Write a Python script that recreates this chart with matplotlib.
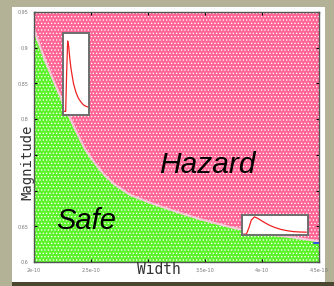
import numpy as np
import matplotlib
matplotlib.use('Agg')
import matplotlib.pyplot as plt
from matplotlib.patches import Rectangle

# boundary between safe and hazard regions
width = [2.000e-10, 2.096e-10, 2.184e-10, 2.272e-10, 2.360e-10, 2.447e-10, 2.535e-10,
         2.623e-10, 2.711e-10, 2.842e-10, 3.018e-10, 3.237e-10, 3.456e-10, 3.719e-10,
         3.982e-10, 4.246e-10, 4.500e-10]
boundary = [0.925, 0.883, 0.849, 0.817, 0.786, 0.758, 0.738,
            0.721, 0.708, 0.694, 0.683, 0.671, 0.660, 0.649,
            0.640, 0.635, 0.629]
blue_w = [4.46e-10, 4.5e-10]
blue_m = [0.627, 0.627]

x_ticks = [2.0e-10, 2.5e-10, 3.0e-10, 3.5e-10, 4.0e-10, 4.5e-10]
x_labels = ['2e-10', '2,5e-10', '', '3,5e-10', '4e-10', '4,5e-10']
y_ticks = [0.6, 0.65, 0.7, 0.75, 0.8, 0.85, 0.9, 0.95]
y_labels = ['0,6', '0,65', '', '', '0,8', '0,85', '0,9', '0,95']

# pulse shapes in the two small boxes
pulse1_t = [0, 0.08, 0.12, 0.16, 0.2, 0.25, 0.3, 0.4, 0.5, 0.6, 0.7, 0.8, 0.9, 1.0]
pulse1_v = [0.0, 0.0, 0.55, 0.97, 0.9, 0.72, 0.58, 0.38, 0.26, 0.18, 0.13, 0.09, 0.07, 0.06]
pulse2_t = [0, 0.04, 0.08, 0.12, 0.17, 0.22, 0.3, 0.4, 0.5, 0.6, 0.7, 0.8, 0.9, 1.0]
pulse2_v = [0.0, 0.0, 0.35, 0.8, 0.97, 0.9, 0.72, 0.52, 0.37, 0.26, 0.19, 0.14, 0.12, 0.11]

W, H = 334, 286
plt.rcParams['hatch.color'] = 'white'
plt.rcParams['hatch.linewidth'] = 0.55

fig = plt.figure(figsize=(W / 100, H / 100), dpi=100, facecolor='#b3b196')
# white panel
fig.patches.append(Rectangle((12 / W, 4 / H), 313 / W, 275 / H, transform=fig.transFigure,
                             facecolor='white', edgecolor='none', zorder=-10))
fig.patches.append(Rectangle((12 / W, 0), 322 / W, 4 / H, transform=fig.transFigure,
                             facecolor='#4a4630', edgecolor='none', zorder=-10))

ax = fig.add_axes([34 / W, 24 / H, 285 / W, 250 / H])
ax.fill_between(width, boundary, 0.95, facecolor='#ff6595', edgecolor='white',
                hatch='.....', linewidth=0)
ax.fill_between(width, 0.6, boundary, facecolor='#5cf22a', edgecolor='white',
                hatch='.....', linewidth=0)
ax.plot(width, boundary, color='#f4c8d6', lw=1.6)
ax.plot(blue_w, blue_m, color='#2233ff', lw=1.2)

ax.set_xlim(2.0e-10, 4.5e-10)
ax.set_ylim(0.6, 0.95)
ax.set_xticks(x_ticks)
ax.set_xticklabels(x_labels)
ax.set_yticks(y_ticks)
ax.set_yticklabels(y_labels)
ax.tick_params(direction='in', length=2, width=0.8, labelsize=3.5, labelcolor='#777777',
               top=True, right=True, pad=4)
for s in ax.spines.values():
    s.set_color('#555555')
    s.set_linewidth(1.0)

ax.text(3.52e-10, 0.736, 'Hazard', family='Liberation Sans', fontsize=21.5, style='italic',
        ha='center', va='center')
ax.text(2.456e-10, 0.657, 'Safe', family='Liberation Sans', fontsize=21, style='italic',
        ha='center', va='center')

fig.text(159 / W, 1 - 269 / H, 'Width', family='DejaVu Sans Mono', fontsize=10.5,
         ha='center', va='center', color='#333333')
fig.text(27 / W, 1 - 162 / H, 'Magnitude', family='DejaVu Sans Mono', fontsize=10,
         ha='center', va='center', rotation=90, color='#333333')

# pulse insets
for (x0, y0, x1, y1), t, v in [((63, 33, 89, 115), pulse1_t, pulse1_v),
                               ((242, 215, 308, 235), pulse2_t, pulse2_v)]:
    ins = fig.add_axes([x0 / W, 1 - y1 / H, (x1 - x0) / W, (y1 - y0) / H])
    ins.plot(t, v, color='#ee2222', lw=0.9)
    ins.set_xlim(-0.03, 1.03)
    ins.set_ylim(-0.05, 1.08)
    ins.set_xticks([])
    ins.set_yticks([])
    for s in ins.spines.values():
        s.set_color('#6e6e6e')
        s.set_linewidth(1.4)

fig.savefig('out.png', dpi=100, facecolor=fig.get_facecolor())
